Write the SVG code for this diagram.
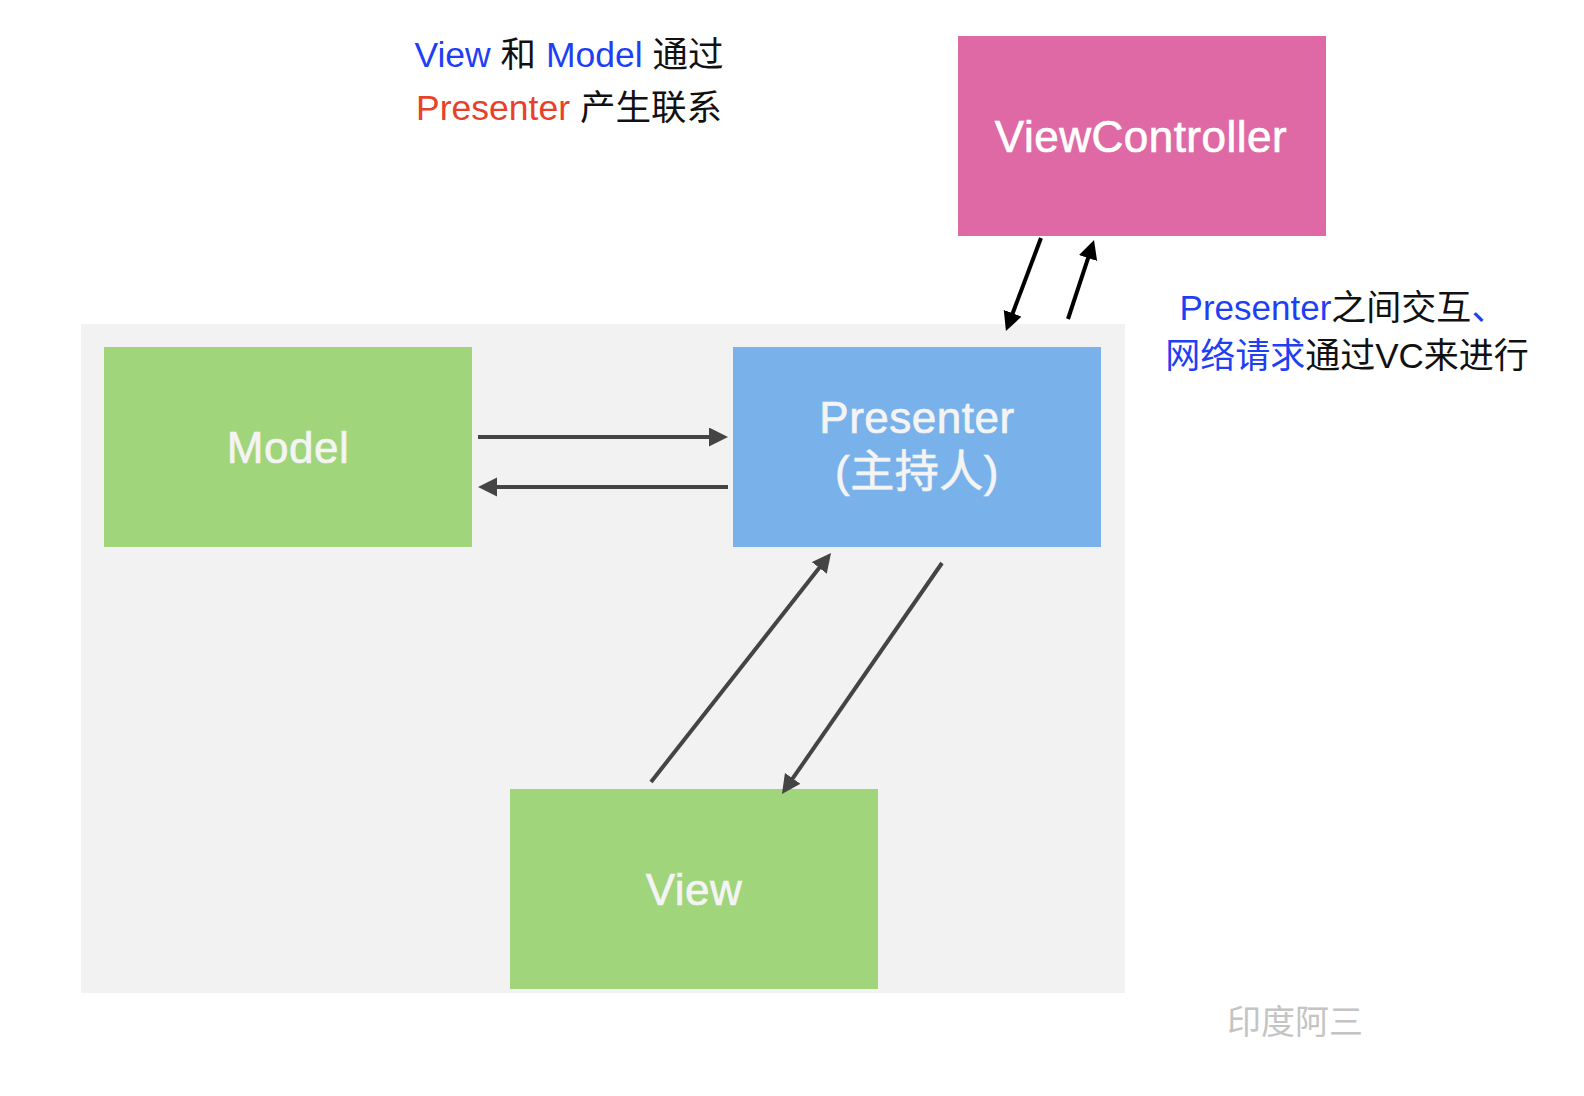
<svg xmlns="http://www.w3.org/2000/svg" width="1584" height="1096" viewBox="0 0 1584 1096">
<style>
.lbl{font-family:"Liberation Sans","Noto Sans CJK SC",sans-serif;font-size:44px;fill:#f4f4f4;stroke:#f4f4f4;stroke-width:0.7;letter-spacing:0.5px;text-anchor:middle}
.note{font-family:"Liberation Sans","Noto Sans CJK SC",sans-serif;font-size:35.5px;fill:#111;text-anchor:middle}
.blue{fill:#1f3ff5}
.red{fill:#e8412a}
.ln{stroke:#444;stroke-width:4;fill:none}
.lk{stroke:#000;stroke-width:4;fill:none}
</style>
<defs>
<marker id="ah" markerUnits="userSpaceOnUse" markerWidth="20" markerHeight="20" viewBox="0 0 20 20" refX="1" refY="9.5" orient="auto">
<path d="M0,0 L19,9.5 L0,19 z" fill="#444"/>
</marker>
<marker id="ak" markerUnits="userSpaceOnUse" markerWidth="20" markerHeight="20" viewBox="0 0 20 20" refX="1" refY="9.5" orient="auto">
<path d="M0,0 L19,9.5 L0,19 z" fill="#000"/>
</marker>
</defs>
<rect width="1584" height="1096" fill="#fff"/>
<rect id="container" x="81" y="324" width="1044" height="669" fill="#f2f2f2"/>
<g id="model">
<rect x="104" y="347" width="368" height="200" fill="#a0d57c"/>
<text class="lbl" x="288" y="463">Model</text>
</g>
<g id="presenter">
<rect x="733" y="347" width="368" height="200" fill="#79b2ea"/>
<text class="lbl" x="917" y="433">Presenter</text>
<text class="lbl" x="917" y="487">(主持人)</text>
</g>
<g id="view">
<rect x="510" y="789" width="368" height="200" fill="#a0d57c"/>
<text class="lbl" x="694" y="905">View</text>
</g>
<g id="viewcontroller">
<rect x="958" y="36" width="368" height="200" fill="#de69a5"/>
<text class="lbl" x="1141" y="152" style="fill:#fff;stroke:#fff">ViewController</text>
</g>
<g id="connectors">
<line class="ln" x1="478" y1="437" x2="710" y2="437" marker-end="url(#ah)"/>
<line class="ln" x1="728" y1="487" x2="496" y2="487" marker-end="url(#ah)"/>
<line class="ln" x1="651" y1="782" x2="819.9" y2="567.1" marker-end="url(#ah)"/>
<line class="ln" x1="942" y1="563" x2="792.2" y2="779.2" marker-end="url(#ah)"/>
<line class="lk" x1="1041" y1="238" x2="1012.3" y2="314.2" marker-end="url(#ak)"/>
<line class="lk" x1="1068" y1="319" x2="1088.4" y2="257.1" marker-end="url(#ak)"/>
</g>
<g id="note-top">
<text class="note" x="569" y="67"><tspan class="blue">View</tspan> 和 <tspan class="blue">Model</tspan> 通过</text>
<text class="note" x="569" y="120"><tspan class="red">Presenter</tspan> 产生联系</text>
</g>
<g id="note-right">
<text class="note" x="1343" y="320" style="font-size:35px"><tspan class="blue">Presenter</tspan>之间交互<tspan class="blue">、</tspan></text>
<text class="note" x="1347" y="368" style="font-size:35px"><tspan class="blue">网络请求</tspan>通过VC来进行</text>
</g>
<text id="watermark" x="1295" y="1034" style="font-family:'Noto Sans CJK SC',sans-serif;font-size:34px;fill:#c4c4c4;text-anchor:middle">印度阿三</text>
</svg>
